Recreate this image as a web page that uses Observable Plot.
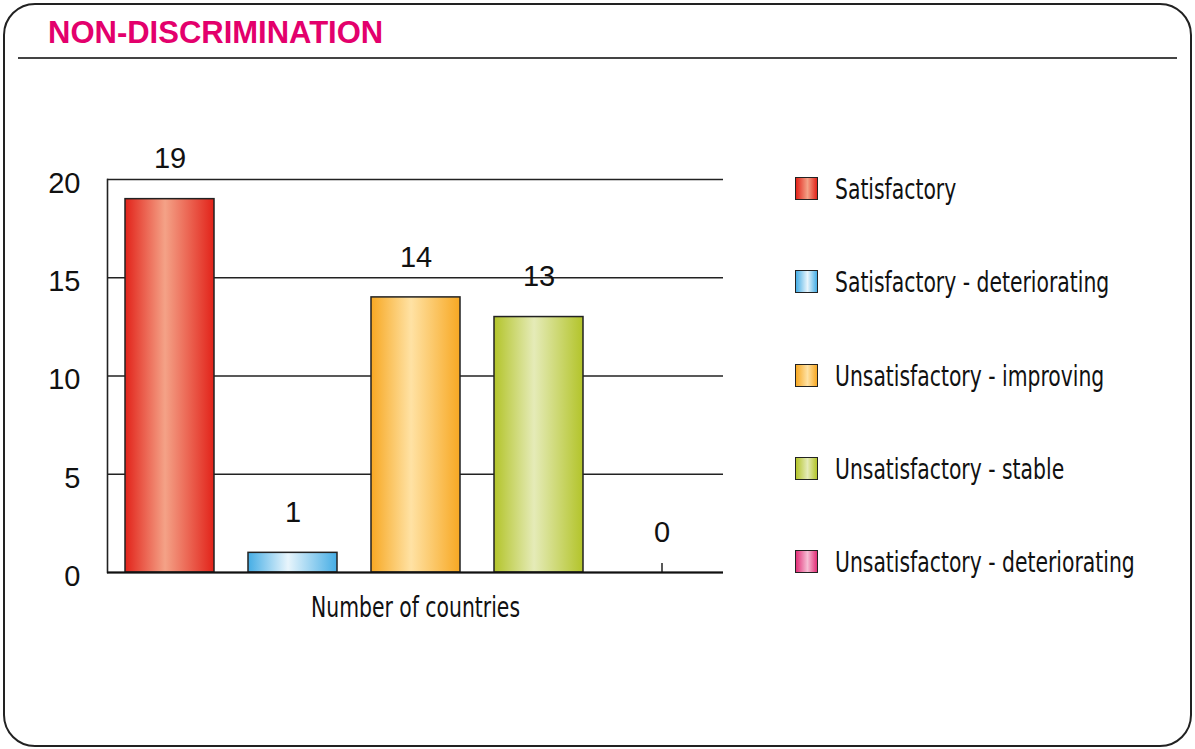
<!DOCTYPE html>
<html>
<head>
<meta charset="utf-8">
<script src="https://cdn.jsdelivr.net/npm/d3@7"></script>
<script src="https://cdn.jsdelivr.net/npm/@observablehq/plot@0.6"></script>
<style>
  html, body { margin: 0; padding: 0; background: #fff; }
  body { width: 1195px; height: 749px; position: relative; overflow: hidden; }
  #frame { position: absolute; left: 3px; top: 3px; width: 1189px; height: 744px; box-sizing: border-box;
           border: 2px solid #222; border-radius: 32px; }
  #title { position: absolute; left: 48px; top: 17px; font-family: "Liberation Sans", Arial, sans-serif;
           font-weight: bold; font-size: 31px; line-height: 1; color: #E3006C; white-space: nowrap; }
  #rule { position: absolute; left: 18px; top: 57px; width: 1159px; border-top: 2px solid #444; }
  #chart { position: absolute; left: 0; top: 0; }
  #legend { position: absolute; left: 795px; top: 177px; font-family: "Liberation Sans Narrow", "DejaVu Sans Condensed", sans-serif;
            font-size: 29px; color: #111; }
  .item { position: absolute; left: 0; white-space: nowrap; }
  .sw { position: absolute; left: 0; top: 0; width: 23px; height: 23px; box-sizing: border-box; border: 1.5px solid #222; }
  .lab { position: absolute; left: 40px; top: -5px; line-height: 34px; transform: scaleX(0.78); transform-origin: 0 50%; }
</style>
</head>
<body>
<div id="frame"></div>
<div id="title">NON-DISCRIMINATION</div>
<div id="rule"></div>
<div id="chart"></div>
<div id="legend"></div>
<script>
// ---- data ----
const categories = [
  "Satisfactory",
  "Satisfactory - deteriorating",
  "Unsatisfactory - improving",
  "Unsatisfactory - stable",
  "Unsatisfactory - deteriorating"
];
const counts = [19, 1, 14, 13, 0];
const yTicks = [0, 5, 10, 15, 20];
const xLabel = "Number of countries";
// gradient colours: [edge, middle]
const edgeColors = ["#E2231A", "#45ADE5", "#F7A823", "#B3C42A", "#E22F78"];
const midColors  = ["#F4A287", "#E8F5FC", "#FFE2A4", "#E5EBB8", "#F6BDD4"];

const data = categories.map((c, i) => ({cat: c, value: counts[i], grad: `url(#grad${i})`}));

const chart = Plot.plot({
  width: 780,
  height: 640,
  marginLeft: 107,
  marginRight: 57,
  marginTop: 179,
  marginBottom: 68,
  style: {background: "transparent", color: "#111", overflow: "visible"},
  x: {domain: categories, paddingInner: 0.28, paddingOuter: 0.13, align: 0.5, axis: null},
  y: {domain: [0, 20], axis: null},
  color: {type: "identity"},
  marks: [
    Plot.gridY(yTicks, {stroke: "#222", strokeOpacity: 1, strokeWidth: 1.6}),
    Plot.frame({anchor: "left", stroke: "#222", strokeWidth: 1.6}),
    Plot.axisY(yTicks, {tickSize: 0, tickPadding: 27, fontSize: 29, dy: 4, label: null,
      fontFamily: "Liberation Sans, Arial, sans-serif", fill: "#111"}),
    Plot.axisX({tickSize: -9, tickFormat: () => "", label: null, stroke: "#222", strokeWidth: 1.5}),
    Plot.barY(data.filter(d => d.value > 0), {x: "cat", y: "value", fill: "grad", stroke: "#222", strokeWidth: 1.5}),
    Plot.ruleY([0], {stroke: "#111", strokeWidth: 2.2}),
    Plot.text(data, {x: "cat", y: "value", text: d => String(d.value), dy: -40,
      fontSize: 29, fontFamily: "Liberation Sans, Arial, sans-serif", fill: "#111"}),
    Plot.text([xLabel], {frameAnchor: "bottom", dy: 44, fontSize: 29,
      fontFamily: "Liberation Sans Narrow, DejaVu Sans Condensed, sans-serif", fill: "#111"})
  ]
});

const defs = d3.select(chart).insert("defs", ":first-child");
categories.forEach((c, i) => {
  const g = defs.append("linearGradient").attr("id", `grad${i}`)
    .attr("x1", "0").attr("x2", "1").attr("y1", "0").attr("y2", "0");
  g.append("stop").attr("offset", "0").attr("stop-color", edgeColors[i]);
  g.append("stop").attr("offset", "0.45").attr("stop-color", midColors[i]);
  g.append("stop").attr("offset", "1").attr("stop-color", edgeColors[i]);
});
// condense the axis caption to match the narrow face of the original
d3.select(chart).selectAll("text").filter(function () { return this.textContent === xLabel; })
  .attr("textLength", 209).attr("lengthAdjust", "spacingAndGlyphs");
document.getElementById("chart").appendChild(chart);

// legend
const legend = d3.select("#legend");
categories.forEach((c, i) => {
  const it = legend.append("div").attr("class", "item").style("top", `${i * 93.3}px`);
  it.append("div").attr("class", "sw")
    .style("background", `linear-gradient(to right, ${edgeColors[i]}, ${midColors[i]} 55%, ${edgeColors[i]})`);
  it.append("div").attr("class", "lab").text(c);
});
</script>
</body>
</html>
